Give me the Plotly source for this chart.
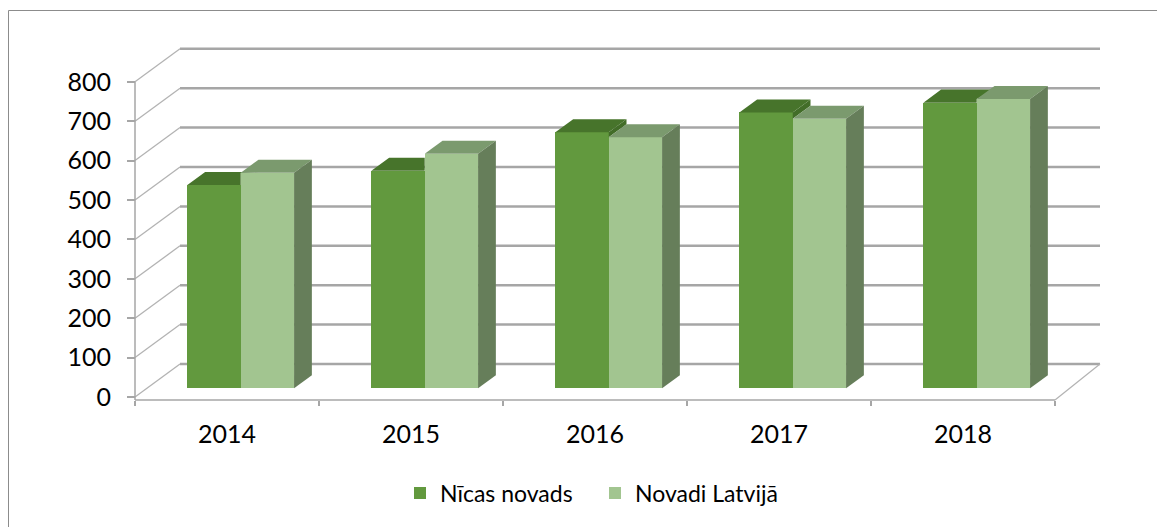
import plotly.graph_objects as go

# ---------------- data ----------------
years = ["2014", "2015", "2016", "2017", "2018"]
nicas_novads = [516, 552, 650, 700, 725]
novadi_latvija = [547, 595, 637, 684, 734]
value_ticks = [0, 100, 200, 300, 400, 500, 600, 700, 800]
series_names = ["Nīcas novads", "Novadi Latvijā"]

# ---------------- geometry / style (page pixels) ----------------
W, H = 1165, 527
OFF = 8                 # default body margin of the page
CAT_PX = 184.0          # pixels per category
VAL_PX = 0.394          # pixels per value unit
X0_PX = 135             # page pixel of front-left edge (x = -0.5)
Y0_PX = 397             # page pixel of value 0 on front plane
PL, PR, PT, PB = 120, 1105, 40, 412   # plot area in page pixels
DX = 45 / CAT_PX        # full depth offset (x, category units)
DY = 33 / VAL_PX        # full depth offset (y, value units)
F1 = 0.264              # depth fraction of bar front face
FB = 0.395              # depth fraction of bar thickness
BW = 0.29               # bar width (category units)
GOFF = 0.01

GRID = "#a6a6a6"
DIAG = "#b3b3b3"
N_FRONT, N_TOP, N_SIDE = "#62993E", "#47742B", "#426D28"
V_FRONT, V_TOP, V_SIDE = "#A2C590", "#7B9A6E", "#667E5A"
FONT = "Lato"

FIG_W = W - OFF
FIG_H = H - OFF
plot_w = PR - PL
plot_h = PB - PT
xmin = -0.5 - (X0_PX - PL) / CAT_PX
xmax = xmin + plot_w / CAT_PX
ymax = (Y0_PX - PT) / VAL_PX
ymin = ymax - plot_h / VAL_PX
floor_y = -3 / VAL_PX
n = len(years)


def px_to_paper_x(px):
    return (px - PL) / plot_w


def px_to_paper_y(py):
    return (PB - py) / plot_h


fig = go.Figure()
shapes = []

# back wall gridlines and left diagonals
for v in value_ticks:
    shapes.append(dict(type="line", xref="x", yref="y", layer="below",
                       x0=-0.5 + DX, x1=n - 0.5 + DX, y0=v + DY, y1=v + DY,
                       line=dict(color=GRID, width=2.5)))
    shapes.append(dict(type="line", xref="x", yref="y", layer="below",
                       x0=-0.5, x1=-0.5 + DX, y0=v, y1=v + DY,
                       line=dict(color=DIAG, width=1.3)))
# front vertical axis line
shapes.append(dict(type="line", xref="x", yref="y", layer="below",
                   x0=-0.5, x1=-0.5, y0=floor_y, y1=value_ticks[-1],
                   line=dict(color=GRID, width=1.5)))
# floor front line and right diagonal
shapes.append(dict(type="line", xref="x", yref="y", layer="below",
                   x0=-0.5, x1=n - 0.5, y0=floor_y, y1=floor_y,
                   line=dict(color=GRID, width=1.5)))
shapes.append(dict(type="line", xref="x", yref="y", layer="below",
                   x0=n - 0.5, x1=n - 0.5 + DX, y0=floor_y, y1=DY,
                   line=dict(color=DIAG, width=1.3)))
# outer chart border (top and left)
shapes.append(dict(type="line", xref="paper", yref="paper",
                   x0=px_to_paper_x(8.5), x1=px_to_paper_x(W + 5),
                   y0=px_to_paper_y(10.5), y1=px_to_paper_y(10.5),
                   line=dict(color="#8c8c8c", width=1)))
shapes.append(dict(type="line", xref="paper", yref="paper",
                   x0=px_to_paper_x(8.5), x1=px_to_paper_x(8.5),
                   y0=px_to_paper_y(10.5), y1=px_to_paper_y(H + 5),
                   line=dict(color="#8c8c8c", width=1)))

base = F1 * DY
ox = F1 * DX
bdx, bdy = FB * DX, FB * DY


def centers(s):
    return [i + GOFF + (s - 0.5) * BW + ox for i in range(n)]


# front faces as bars
for s, (name, vals, col) in enumerate(zip(series_names, [nicas_novads, novadi_latvija], [N_FRONT, V_FRONT])):
    fig.add_trace(go.Bar(x=centers(s), y=vals, base=base, width=BW, name=name,
                         marker=dict(color=col, line=dict(width=0))))


def poly(pts, color):
    xs = [p[0] for p in pts] + [pts[0][0]]
    ys = [p[1] for p in pts] + [pts[0][1]]
    fig.add_trace(go.Scatter(x=xs, y=ys, mode="lines", fill="toself", fillcolor=color,
                             line=dict(width=0, color=color), showlegend=False,
                             hoverinfo="skip"))


cN, cV = centers(0), centers(1)
for i in range(n):
    tN = nicas_novads[i] + base
    tV = novadi_latvija[i] + base
    x0, x1 = cN[i] - BW / 2, cN[i] + BW / 2
    x2 = cV[i] + BW / 2
    if tN > tV:
        poly([(x1, tV), (x1, tN), (x1 + bdx, tN + bdy), (x1 + bdx, tV + bdy)], N_SIDE)
        poly([(x0, tN), (x1, tN), (x1 + bdx, tN + bdy), (x0 + bdx, tN + bdy)], N_TOP)
    else:
        m = min(tV, tN + bdy)
        poly([(x0, tN), (x1, tN), (x1, m), (x1 + bdx, tN + bdy), (x0 + bdx, tN + bdy)], N_TOP)
    poly([(x1, tV), (x2, tV), (x2 + bdx, tV + bdy), (x1 + bdx, tV + bdy)], V_TOP)
    poly([(x2, base), (x2, tV), (x2 + bdx, tV + bdy), (x2 + bdx, base + bdy)], V_SIDE)

fig.update_layout(
    width=FIG_W, height=FIG_H,
    margin=dict(l=PL - OFF, r=FIG_W - (PR - OFF), t=PT - OFF, b=FIG_H - (PB - OFF), pad=0,
                autoexpand=False),
    paper_bgcolor="white", plot_bgcolor="white",
    barmode="overlay", bargap=0,
    shapes=shapes,
    font=dict(family=FONT, size=25, color="#000000"),
    showlegend=True,
    legend=dict(orientation="h", x=px_to_paper_x(400), xanchor="left",
                yref="container", y=1 - (493 - OFF) / FIG_H, yanchor="middle",
                font=dict(family=FONT, size=23, color="#000000"),
                itemwidth=30, entrywidth=150, bgcolor="rgba(0,0,0,0)"),
    xaxis=dict(range=[xmin, xmax], showgrid=False, zeroline=False, showline=False,
               tickmode="array", tickvals=list(range(n)), ticktext=years, ticks="",
               anchor="free", position=px_to_paper_y(400), ticklabelstandoff=17,
               minor=dict(tickvals=[i - 0.5 for i in range(n + 1)], ticks="outside",
                          ticklen=5, tickcolor=GRID, tickwidth=1.5, showgrid=False),
               fixedrange=True),
    yaxis=dict(range=[ymin, ymax], showgrid=False, zeroline=False, showline=False,
               tickmode="array", tickvals=value_ticks, ticks="outside", ticklen=8,
               tickcolor=GRID, tickwidth=1.5,
               anchor="free", position=px_to_paper_x(135), ticklabelstandoff=11,
               fixedrange=True),
)

fig.write_html("out.html")
